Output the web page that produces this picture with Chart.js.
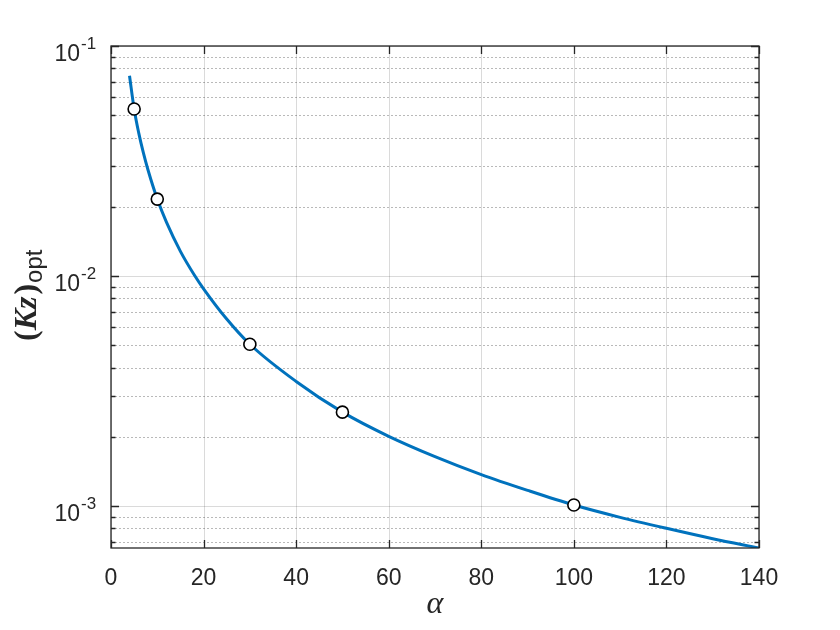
<!DOCTYPE html>
<html>
<head>
<meta charset="utf-8">
<script src="https://cdn.jsdelivr.net/npm/chart.js@4/dist/chart.umd.min.js"></script>
<style>
  html, body { margin: 0; padding: 0; background: #ffffff; }
  #c { display: block; }
</style>
</head>
<body>
<canvas id="c" width="840" height="630"></canvas>
<script>
// ---- data ----
const alphaCurve = [4, 5, 6, 7, 8, 10, 12, 15, 18, 20, 25, 30, 40, 50, 60, 70, 80, 90, 100, 110, 120, 130, 140];
const kzCurve = [0.0743, 0.0532, 0.0418, 0.0343, 0.0289, 0.0216, 0.0171, 0.0128, 0.0101, 0.0088, 0.0065, 0.00505,
                 0.00348, 0.00256, 0.00201, 0.00164, 0.00137, 0.00117, 0.00101, 0.000893, 0.00080, 0.000721, 0.000657];
const alphaMarkers = [5, 10, 30, 50, 100];
const kzMarkers = [0.0532, 0.0216, 0.00505, 0.00256, 0.00101];

const xTicks = [0, 20, 40, 60, 80, 100, 120, 140];
const xTickLabels = ['0', '20', '40', '60', '80', '100', '120', '140'];
const yDecades = [1e-3, 1e-2, 1e-1];
const yTickBase = ['10', '10', '10'];
const yTickExp = ['-3', '-2', '-1'];
const xMin = 0, xMax = 140;
const yMin = 0.000657, yMax = 0.1;

const TEXT = '#262626';

const curveData = alphaCurve.map((a, i) => ({ x: a, y: kzCurve[i] }));
const markerData = alphaMarkers.map((a, i) => ({ x: a, y: kzMarkers[i] }));

const matlabAxes = {
  id: 'matlabAxes',
  beforeDatasetsDraw(chart) {
    const ctx = chart.ctx, a = chart.chartArea;
    const xs = chart.scales.x, ys = chart.scales.y;
    ctx.save();
    // minor dotted y grid
    ctx.strokeStyle = 'rgba(38,38,38,0.32)';
    ctx.lineWidth = 1;
    ctx.setLineDash([2, 2]);
    for (let d = -4; d <= -2; d++) {
      for (let k = 2; k <= 9; k++) {
        const v = k * Math.pow(10, d);
        if (v < yMin || v > yMax) continue;
        const py = Math.round(ys.getPixelForValue(v)) + 0.5;
        ctx.beginPath(); ctx.moveTo(a.left, py); ctx.lineTo(a.right, py); ctx.stroke();
      }
    }
    ctx.setLineDash([]);
    // major grid
    ctx.strokeStyle = 'rgba(38,38,38,0.17)';
    yDecades.forEach(v => {
      const py = Math.round(ys.getPixelForValue(v)) + 0.5;
      ctx.beginPath(); ctx.moveTo(a.left, py); ctx.lineTo(a.right, py); ctx.stroke();
    });
    xTicks.forEach(v => {
      const px = Math.round(xs.getPixelForValue(v)) + 0.5;
      ctx.beginPath(); ctx.moveTo(px, a.top); ctx.lineTo(px, a.bottom); ctx.stroke();
    });
    ctx.restore();
  },
  afterDatasetsDraw(chart) {
    const ctx = chart.ctx, a = chart.chartArea;
    const xs = chart.scales.x, ys = chart.scales.y;
    ctx.save();
    ctx.strokeStyle = TEXT;
    ctx.lineWidth = 1.3;
    // box
    ctx.strokeRect(a.left, a.top, a.right - a.left, a.bottom - a.top);
    // x ticks
    xTicks.forEach(v => {
      const px = Math.round(xs.getPixelForValue(v)) + 0.5;
      ctx.beginPath();
      ctx.moveTo(px, a.bottom); ctx.lineTo(px, a.bottom - 8);
      ctx.moveTo(px, a.top); ctx.lineTo(px, a.top + 8);
      ctx.stroke();
    });
    // y major ticks
    yDecades.forEach(v => {
      const py = Math.round(ys.getPixelForValue(v)) + 0.5;
      ctx.beginPath();
      ctx.moveTo(a.left, py); ctx.lineTo(a.left + 8, py);
      ctx.moveTo(a.right, py); ctx.lineTo(a.right - 8, py);
      ctx.stroke();
    });
    // y minor ticks
    for (let d = -4; d <= -2; d++) {
      for (let k = 2; k <= 9; k++) {
        const v = k * Math.pow(10, d);
        if (v < yMin || v > yMax) continue;
        const py = Math.round(ys.getPixelForValue(v)) + 0.5;
        ctx.beginPath();
        ctx.moveTo(a.left, py); ctx.lineTo(a.left + 4.5, py);
        ctx.moveTo(a.right, py); ctx.lineTo(a.right - 4.5, py);
        ctx.stroke();
      }
    }
    // x tick labels
    ctx.fillStyle = TEXT;
    ctx.font = '23px "Liberation Sans", Arial, sans-serif';
    ctx.textAlign = 'center';
    ctx.textBaseline = 'alphabetic';
    xTicks.forEach((v, i) => {
      ctx.fillText(xTickLabels[i], xs.getPixelForValue(v), a.bottom + 37);
    });
    // y tick labels 10^n
    yDecades.forEach((v, i) => {
      const py = ys.getPixelForValue(v);
      ctx.font = '23px "Liberation Sans", Arial, sans-serif';
      ctx.textAlign = 'right';
      ctx.fillText(yTickBase[i], 80, py + 14.5);
      ctx.font = '17px "Liberation Sans", Arial, sans-serif';
      ctx.textAlign = 'left';
      ctx.fillText(yTickExp[i], 81, py + 3);
    });
    // x axis title
    ctx.font = 'italic 32px "Liberation Serif", "Times New Roman", serif';
    ctx.textAlign = 'center';
    ctx.fillText('\u03b1', (a.left + a.right) / 2, 613);
    // y axis title (Kz)_opt rotated
    ctx.translate(36, 341);
    ctx.rotate(-Math.PI / 2);
    ctx.textAlign = 'left';
    let xpos = 0;
    ctx.font = 'bold 32px "Liberation Serif", "Times New Roman", serif';
    ctx.fillText('(', xpos, 0); xpos += ctx.measureText('(').width;
    ctx.font = 'italic bold 32px "Liberation Serif", "Times New Roman", serif';
    ctx.fillText('Kz', xpos, 0); xpos += ctx.measureText('Kz').width + 2;
    ctx.font = 'bold 32px "Liberation Serif", "Times New Roman", serif';
    ctx.fillText(')', xpos, 0); xpos += ctx.measureText(')').width + 1;
    ctx.font = '24px "Liberation Sans", Arial, sans-serif';
    ctx.fillText('opt', xpos, 6);
    ctx.restore();
  }
};

new Chart(document.getElementById('c'), {
  type: 'line',
  data: {
    datasets: [
      {
        label: 'markers',
        data: markerData,
        showLine: false,
        pointRadius: 6,
        pointHoverRadius: 6,
        pointBackgroundColor: '#ffffff',
        pointBorderColor: '#000000',
        pointBorderWidth: 1.6,
        order: 0
      },
      {
        label: 'curve',
        data: curveData,
        borderColor: '#0072BD',
        borderWidth: 3,
        pointRadius: 0,
        fill: false,
        cubicInterpolationMode: 'monotone',
        order: 1
      }
    ]
  },
  options: {
    responsive: false,
    animation: false,
    devicePixelRatio: 1,
    layout: { padding: { top: 46, right: 81, left: 0, bottom: 0 } },
    plugins: { legend: { display: false }, tooltip: { enabled: false } },
    scales: {
      x: {
        type: 'linear', min: xMin, max: xMax,
        grid: { display: false }, border: { display: false },
        ticks: { display: false },
        afterFit: s => { s.height = 82; }
      },
      y: {
        type: 'logarithmic', min: yMin, max: yMax,
        grid: { display: false }, border: { display: false },
        ticks: { display: false },
        afterFit: s => { s.width = 111; }
      }
    }
  },
  plugins: [matlabAxes]
});
</script>
</body>
</html>
